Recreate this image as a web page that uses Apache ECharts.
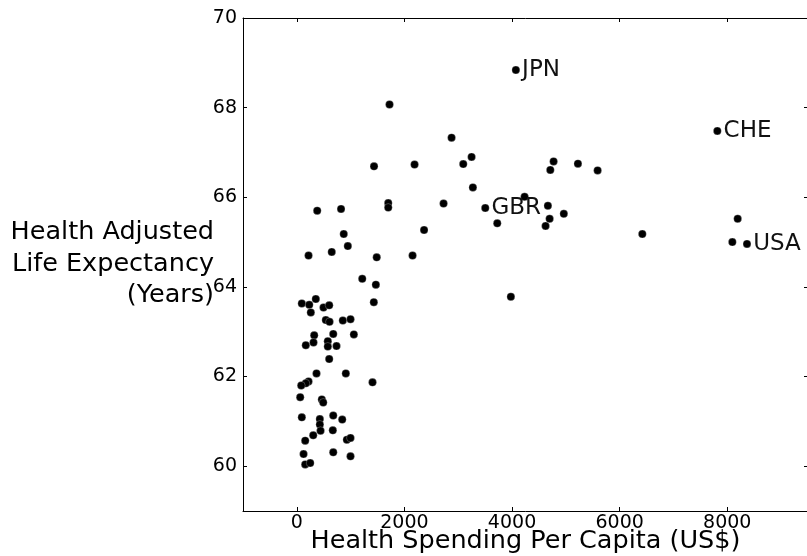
<!DOCTYPE html>
<html>
<head>
<meta charset="utf-8">
<script src="https://cdn.jsdelivr.net/npm/echarts@6/dist/echarts.min.js"></script>
<style>html,body{margin:0;padding:0;background:#fff}#c{width:807px;height:556px}</style>
</head>
<body>
<div id="c"></div>
<script>
// Health spending per capita (US$)
const spending = [4071,1723,7815,2876,3248,4772,1435,2188,3093,5224,4711,5590,3272,4233,2727,1699,1699,822,379,3502,
  4666,4962,4698,8193,3725,4623,2365,6421,872,8094,8366,948,218,649,1485,2151,1216,1469,3978,353,
  93,231,260,496,602,1431,539,608,855,998,1060,323,677,310,167,576,576,738,602,366,
  911,1407,218,167,82,63,465,491,93,677,844,428,428,441,669,305,156,930,998,125,
  677,998,156,249];
// Health adjusted life expectancy (years)
const hale = [68.84,68.07,67.48,67.33,66.90,66.80,66.69,66.73,66.74,66.75,66.61,66.60,66.22,66.01,65.86,65.87,65.77,65.74,65.70,65.76,
  65.81,65.63,65.52,65.52,65.42,65.36,65.27,65.18,65.18,65.00,64.96,64.91,64.70,64.78,64.66,64.70,64.18,64.05,63.78,63.73,
  63.63,63.60,63.43,63.54,63.59,63.66,63.26,63.22,63.25,63.28,62.94,62.92,62.95,62.76,62.70,62.79,62.67,62.68,62.39,62.07,
  62.07,61.87,61.89,61.85,61.80,61.54,61.49,61.42,61.09,61.13,61.04,61.05,60.93,60.79,60.80,60.69,60.57,60.59,60.63,60.27,
  60.31,60.22,60.04,60.07];
// Country code labels (empty = unlabeled)
const codes = spending.map(() => '');
codes[0] = 'JPN'; codes[2] = 'CHE'; codes[19] = 'GBR'; codes[30] = 'USA';
const xTicks = [0, 2000, 4000, 6000, 8000];
const yTicks = [60, 62, 64, 66, 68, 70];

const font = 'DejaVu Sans';
const chart = echarts.init(document.getElementById('c'), null, {renderer: 'canvas'});
const axisLineStyle = {show: true, onZero: false, lineStyle: {color: '#000', width: 1}};
const tickStyle = (vals) => ({show: true, inside: true, length: 4, lineStyle: {color: '#000', width: 1}, customValues: vals});
chart.setOption({
  animation: false,
  backgroundColor: '#fff',
  grid: {left: 243, top: 18, width: 565, height: 493, containLabel: false, outerBoundsMode: 'none'},
  xAxis: [{
    type: 'value', min: -1000, max: 9500, position: 'bottom',
    axisLine: axisLineStyle, splitLine: {show: false},
    axisTick: tickStyle(xTicks),
    axisLabel: {customValues: xTicks, formatter: (v) => String(v), color: '#000', fontSize: 19, fontFamily: font, margin: 3},
    name: 'Health Spending Per Capita (US$)', nameLocation: 'middle', nameGap: 17, nameMoveOverlap: false,
    nameTextStyle: {color: '#000', fontSize: 25.5, fontFamily: font, verticalAlign: 'top'}
  }, {
    type: 'value', min: -1000, max: 9500, position: 'top',
    axisLine: axisLineStyle, splitLine: {show: false},
    axisTick: tickStyle(xTicks), axisLabel: {show: false}
  }],
  yAxis: [{
    type: 'value', min: 59, max: 70, position: 'left',
    axisLine: axisLineStyle, splitLine: {show: false},
    axisTick: tickStyle(yTicks),
    axisLabel: {customValues: yTicks, formatter: (v) => String(v), color: '#000', fontSize: 19, fontFamily: font, margin: 6}
  }, {
    type: 'value', min: 59, max: 70, position: 'right',
    axisLine: axisLineStyle, splitLine: {show: false},
    axisTick: tickStyle(yTicks), axisLabel: {show: false}
  }],
  graphic: [{
    type: 'text', x: 214, y: 217,
    style: {
      text: 'Health Adjusted\nLife Expectancy\n(Years)',
      align: 'right', verticalAlign: 'top', fill: '#000',
      font: '25.5px "DejaVu Sans"', lineHeight: 31.5
    }
  }],
  series: [{
    type: 'scatter',
    symbol: 'circle', symbolSize: 8,
    itemStyle: {color: '#000', borderColor: 'rgba(255,255,255,0.5)', borderWidth: 0.5, opacity: 1},
    label: {
      show: true, position: 'right', distance: 2,
      formatter: (p) => codes[p.dataIndex],
      color: '#111', fontSize: 23, fontFamily: font
    },
    data: spending.map((x, i) => [x, hale[i]])
  }]
});
</script>
</body>
</html>
